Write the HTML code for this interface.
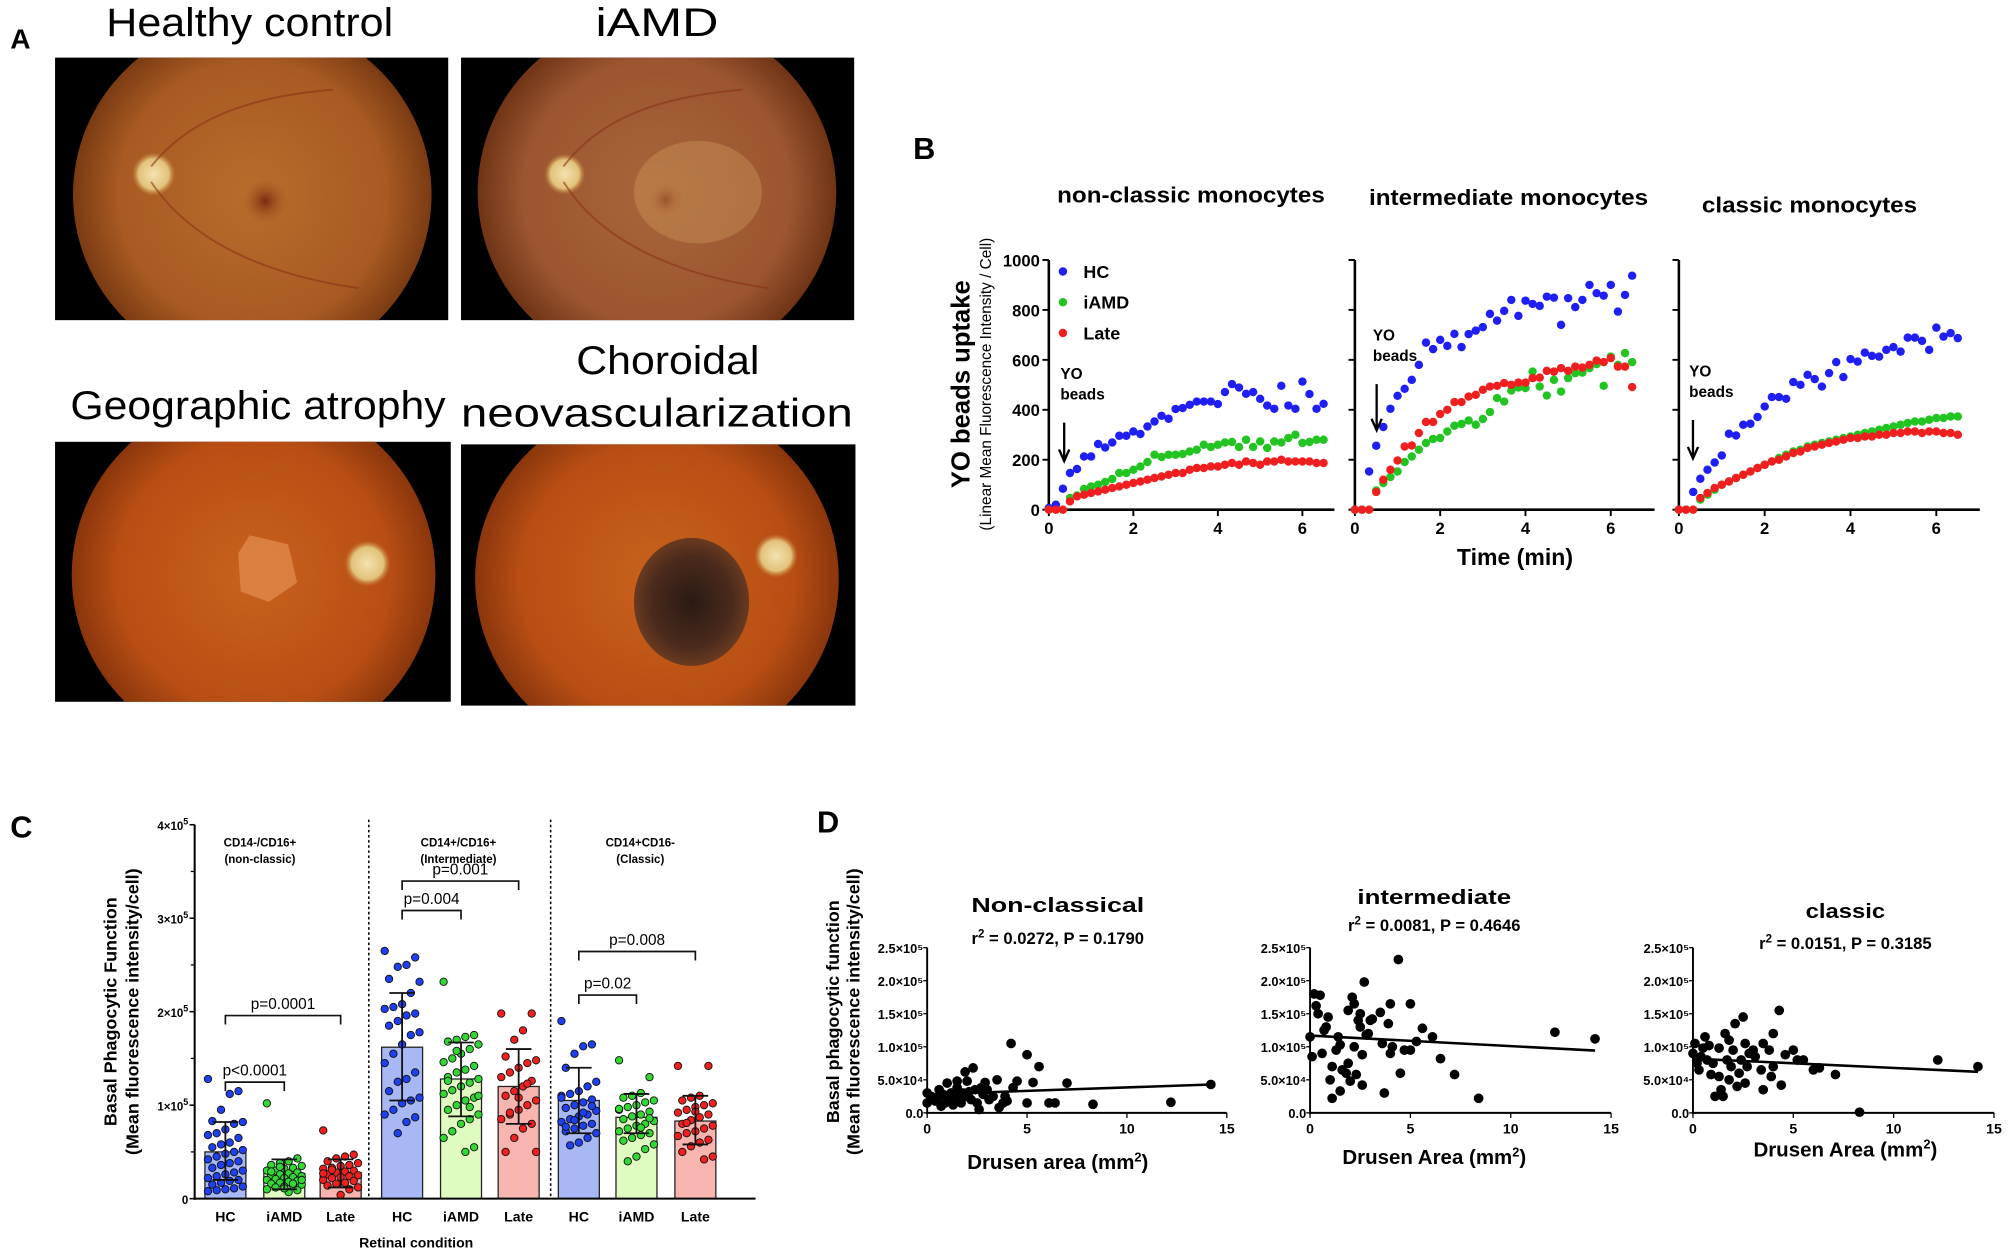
<!DOCTYPE html>
<html><head><meta charset="utf-8">
<style>
html,body{margin:0;padding:0;background:#fff;}
svg{display:block;}
text{font-family:"Liberation Sans",sans-serif;}
.n{font-family:"Liberation Sans Narrow","Liberation Sans",sans-serif;}
</style></head>
<body>
<svg id="fig" width="2008" height="1255" viewBox="0 0 1568 980" xmlns="http://www.w3.org/2000/svg">
<defs>
<radialGradient id="g1" cx="0.5" cy="0.5" r="0.5"><stop offset="0" stop-color="#b86d2c"/><stop offset="0.75" stop-color="#a85a22"/><stop offset="1" stop-color="#7a3b12"/></radialGradient>
<radialGradient id="g2" cx="0.5" cy="0.5" r="0.5"><stop offset="0" stop-color="#a8663a"/><stop offset="0.75" stop-color="#9b5530"/><stop offset="1" stop-color="#6f3416"/></radialGradient>
<radialGradient id="g3" cx="0.5" cy="0.5" r="0.5"><stop offset="0" stop-color="#c8621c"/><stop offset="0.75" stop-color="#b84e14"/><stop offset="1" stop-color="#8a360c"/></radialGradient>
<radialGradient id="disc" cx="0.5" cy="0.5" r="0.5"><stop offset="0" stop-color="#f4e2b0"/><stop offset="0.7" stop-color="#e2c27a"/><stop offset="1" stop-color="#c88a40" stop-opacity="0"/></radialGradient>
<radialGradient id="mac" cx="0.5" cy="0.5" r="0.5"><stop offset="0" stop-color="#7a2a10"/><stop offset="1" stop-color="#a85a22" stop-opacity="0"/></radialGradient>
<radialGradient id="cnv" cx="0.5" cy="0.5" r="0.5"><stop offset="0" stop-color="#2a1a14"/><stop offset="0.7" stop-color="#4a2a1c"/><stop offset="1" stop-color="#6a3a20"/></radialGradient>
<clipPath id="c1"><rect x="43" y="45" width="307" height="205"/></clipPath>
<clipPath id="c2"><rect x="360" y="45" width="307" height="205"/></clipPath>
<clipPath id="c3"><rect x="43" y="345" width="309" height="203"/></clipPath>
<clipPath id="c4"><rect x="360" y="347" width="308" height="204"/></clipPath>
</defs>

<!-- Panel A -->
<text x="8" y="38" font-size="22" font-weight="bold">A</text>
<text x="83" y="28" font-size="31" textLength="224" lengthAdjust="spacingAndGlyphs">Healthy control</text>
<text x="465" y="28" font-size="31" textLength="96" lengthAdjust="spacingAndGlyphs">iAMD</text>
<text x="55" y="327" font-size="31" textLength="293" lengthAdjust="spacingAndGlyphs">Geographic atrophy</text>
<text x="450" y="292" font-size="31" textLength="143" lengthAdjust="spacingAndGlyphs">Choroidal</text>
<text x="360" y="333" font-size="31" textLength="306" lengthAdjust="spacingAndGlyphs">neovascularization</text>

<g>
<rect x="43" y="45" width="307" height="205" fill="#000"/>
<g clip-path="url(#c1)"><ellipse cx="197" cy="152" rx="140" ry="138" fill="url(#g1)"/>
<circle cx="120" cy="136" r="17" fill="url(#disc)"/><circle cx="207" cy="157" r="18" fill="url(#mac)"/>
<path d="M118 130 C150 90 200 75 260 70 M118 142 C150 190 210 215 280 225" stroke="#8a3418" stroke-width="1.5" fill="none" opacity="0.6"/></g></g>
<g>
<rect x="360" y="45" width="307" height="205" fill="#000"/>
<g clip-path="url(#c2)"><ellipse cx="513" cy="150" rx="140" ry="138" fill="url(#g2)"/>
<circle cx="441" cy="136" r="16" fill="url(#disc)"/><circle cx="520" cy="156" r="14" fill="url(#mac)"/>
<ellipse cx="545" cy="150" rx="50" ry="40" fill="#d8a060" opacity="0.35"/>
<path d="M440 130 C470 90 520 75 580 70 M440 142 C470 190 530 215 600 225" stroke="#8a3418" stroke-width="1.5" fill="none" opacity="0.6"/></g></g>
<g>
<rect x="43" y="345" width="309" height="203" fill="#000"/>
<g clip-path="url(#c3)"><ellipse cx="198" cy="449" rx="142" ry="140" fill="url(#g3)"/>
<circle cx="287" cy="440" r="18" fill="url(#disc)"/>
<path d="M195 418 L225 425 L232 455 L210 470 L188 462 L186 432 Z" fill="#e0884a" opacity="0.8"/></g></g>
<g>
<rect x="360" y="347" width="308" height="204" fill="#000"/>
<g clip-path="url(#c4)"><ellipse cx="513" cy="452" rx="142" ry="140" fill="url(#g3)"/>
<circle cx="606" cy="434" r="17" fill="url(#disc)"/>
<ellipse cx="540" cy="470" rx="45" ry="50" fill="url(#cnv)"/></g></g>

<!-- Panel B -->
<text x="713" y="124" font-size="24" font-weight="bold">B</text>
<g id="panelB"></g>

<!-- Panel C -->
<text x="8" y="654" font-size="24" font-weight="bold">C</text>
<g id="panelC"></g>

<!-- Panel D -->
<text x="638" y="650" font-size="24" font-weight="bold">D</text>
<g id="panelD"></g>
</svg>

<script>
// ===== Panel B data =====
const bTimeStep = 0.1667;
const bPanels = ["non-classic monocytes","intermediate monocytes","classic monocytes"];
const bYTicks = [0,200,400,600,800,1000];
const bXTicks = [0,2,4,6];
const ncHC = [7,20,84,147,163,213,213,263,249,269,296,296,313,303,333,353,376,364,403,407,420,433,433,433,423,471,503,489,464,471,444,417,404,496,417,404,513,463,404,424];
const ncIAMD = [0,0,0,47,57,83,93,100,111,123,147,147,160,173,191,220,211,220,220,223,233,240,260,251,260,269,271,251,280,251,273,247,273,269,287,300,267,271,280,280];
const ncLate = [0,0,0,33,53,60,67,73,80,87,93,100,107,113,120,127,133,140,147,147,160,167,167,173,173,180,187,180,193,187,180,193,193,200,193,193,193,193,187,187];
const inHC = [0,0,153,256,331,404,456,484,520,580,669,643,680,656,704,651,703,717,731,784,757,796,840,776,837,824,816,853,849,740,847,811,840,900,867,857,900,793,860,937];
const inIAMD = [0,0,0,77,107,131,153,191,213,240,267,283,287,313,336,343,357,340,363,391,447,433,477,489,487,553,493,457,520,473,527,547,549,567,583,496,613,580,627,591];
const inLate = [0,0,0,71,120,160,197,253,257,307,351,351,383,400,431,431,453,460,480,493,496,507,500,509,509,527,529,556,553,567,556,573,569,580,597,591,607,573,573,491];
const clHC = [0,0,71,124,160,189,217,304,297,340,344,371,413,451,451,444,511,500,540,523,493,547,591,531,603,593,629,616,613,640,651,633,689,689,676,640,729,693,707,687];
const clIAMD = [0,0,0,40,60,80,100,113,127,140,153,167,180,193,207,220,233,240,253,260,267,273,280,287,293,300,307,313,320,327,333,340,347,353,353,360,367,367,373,373];
const clLate = [0,0,0,47,67,87,100,113,127,140,153,167,180,193,200,213,227,233,247,253,260,267,273,280,287,287,293,293,300,300,307,307,313,313,307,313,313,307,307,300];

// ===== Panel C data (units of 1e4) =====
const cCategories = ["HC","iAMD","Late"];
const cYTicks = [0,10,20,30,40];
const cMeans = [5.0,2.7,2.8,16.2,12.8,12.0,10.5,8.7,8.3];
const cSdLow = [2.0,1.0,1.2,10.5,8.8,8.0,7.0,7.0,5.8];
const cSdHigh = [8.2,4.2,4.2,22.0,16.7,16.0,14.0,11.2,11.0];
const cHC1 = [12.8,11.5,11.2,9.5,8.3,8.2,8.0,7.4,7.0,6.8,6.5,6.0,5.8,5.5,5.2,5.0,4.8,4.5,4.2,4.0,3.8,3.6,3.3,3.0,2.8,2.6,2.4,2.2,2.0,1.9,1.7,1.5,1.3,1.1,1.0,0.9,0.8];
const cIAMD1 = [10.2,4.3,4.0,3.8,3.6,3.5,3.3,3.2,3.0,3.0,2.8,2.7,2.6,2.5,2.4,2.3,2.2,2.1,2.0,1.9,1.8,1.7,1.6,1.5,1.4,1.3,1.2,1.0,0.9,0.7,3.4,2.9,2.0,1.6,1.1];
const cLate1 = [7.3,4.7,4.5,4.3,4.0,3.8,3.6,3.5,3.3,3.2,3.0,2.9,2.8,2.6,2.5,2.4,2.3,2.2,2.0,1.9,1.7,1.6,1.4,1.2,1.0,0.4,3.1,2.7];
const cHC2 = [26.5,25.8,25.0,24.8,23.5,23.2,22.0,20.8,20.5,20.3,19.8,19.6,19.0,18.5,17.8,17.5,16.5,15.5,14.5,13.5,12.8,12.5,11.5,10.8,10.5,10.2,9.5,9.0,8.7,8.2,7.0];
const cIAMD2 = [23.2,17.5,17.3,17.0,16.8,16.5,16.0,15.5,15.0,14.6,14.2,13.8,13.5,13.0,12.8,12.4,12.0,11.6,11.2,10.8,10.5,10.0,9.5,9.0,8.5,8.0,7.2,6.5,5.5,5.0,15.8,12.6,11.0,9.8];
const cLate2 = [19.8,19.8,18.0,17.0,15.2,14.8,14.5,14.0,13.5,13.0,12.6,12.0,11.5,11.0,10.5,10.0,9.5,9.0,8.5,8.0,7.5,6.5,5.0,5.0,12.3,10.8,9.2];
const cHC3 = [19.0,16.5,16.3,15.5,14.0,12.5,12.0,11.5,11.2,11.0,10.6,10.3,10.0,9.7,9.4,9.0,8.8,8.5,8.2,8.0,7.8,7.5,7.2,7.0,6.5,6.0,5.7,10.8,9.9,9.2,8.4,7.7];
const cIAMD3 = [14.8,13.0,11.3,11.0,10.8,10.5,10.3,10.0,9.8,9.5,9.3,9.0,8.8,8.5,8.3,8.0,7.8,7.5,7.2,7.0,6.8,6.5,6.2,5.8,5.3,4.5,4.0,9.6,8.6,7.6];
const cLate3 = [14.2,14.2,11.0,10.8,10.5,10.2,10.0,9.8,9.5,9.2,9.0,8.7,8.4,8.0,7.8,7.5,7.2,7.0,6.7,6.3,6.0,5.6,5.0,4.5,4.2,9.3,8.1];

// ===== Panel D data (x mm2, y units of 1e4) =====
const dYTicks = [0,5,10,15,20,25];
const dYTickLabels = ["0.0","5.0×10⁴","1.0×10⁵","1.5×10⁵","2.0×10⁵","2.5×10⁵"];
const dXTicks = [0,5,10,15];
const dIntercepts = [2.8,11.7,8.2];
const dSlopes = [0.105,-0.16,-0.14];
const dNcX = [0,0,0.2,0.4,0.5,0.6,0.7,0.8,0.9,1.0,1.1,1.2,1.3,1.4,1.5,1.5,1.6,1.7,1.8,1.9,2.0,2.0,2.1,2.2,2.3,2.4,2.5,2.6,2.7,2.8,2.9,3.0,3.1,3.3,3.5,3.6,3.8,3.9,4.0,4.2,4.3,4.5,5.0,5.0,5.3,5.6,6.1,6.4,7.0,8.3,12.2,14.2];
const dNcY = [3.0,1.5,2.5,1.8,2.2,3.5,1.0,2.8,1.5,4.5,2.0,3.0,1.2,2.5,4.8,3.8,2.0,1.5,3.0,6.2,4.8,2.5,3.2,2.0,6.8,3.5,1.5,0.5,3.8,2.8,4.6,3.5,2.0,2.5,5.0,0.8,1.5,2.5,1.8,10.5,3.8,4.8,8.8,1.5,4.6,7.0,1.5,1.5,4.5,1.3,1.6,4.3];
const dInX = [0,0.1,0.2,0.3,0.4,0.5,0.6,0.7,0.8,0.9,1.0,1.1,1.1,1.3,1.4,1.5,1.5,1.6,1.8,1.9,1.9,2.0,2.1,2.2,2.2,2.3,2.4,2.5,2.5,2.6,2.6,2.7,2.8,2.9,3.0,3.1,3.5,3.6,3.7,3.9,4.0,4.0,4.1,4.4,4.5,4.7,5.0,5.0,5.3,5.6,6.1,6.5,7.2,8.4,12.2,14.2];
const dInY = [11.5,8.5,18.0,16.2,15.0,17.8,9.0,12.5,13.0,14.5,5.0,7.0,2.2,9.5,11.5,10.3,3.3,6.5,6.0,15.5,7.5,4.8,17.5,16.5,10.0,5.8,14.0,15.0,13.0,8.8,4.2,19.8,11.8,12.0,14.0,14.2,15.2,10.5,3.0,13.5,16.5,9.0,10.0,23.2,6.0,9.5,16.5,9.5,10.8,12.8,11.5,8.2,5.8,2.2,12.2,11.2];
const dClX = [0,0.1,0.2,0.3,0.4,0.5,0.6,0.7,0.8,0.9,1.0,1.1,1.3,1.3,1.4,1.5,1.6,1.7,1.8,1.8,1.9,2.0,2.1,2.2,2.3,2.4,2.5,2.6,2.6,2.7,2.8,3.0,3.1,3.4,3.5,3.5,3.8,3.9,4.0,4.0,4.3,4.4,4.6,5.0,5.2,5.5,6.0,6.3,7.1,8.3,12.2,14.2];
const dClY = [9.0,10.5,7.5,6.5,8.5,9.8,11.5,8.0,10.2,5.8,7.5,2.5,9.8,5.5,3.5,2.5,12.0,8.0,11.0,5.0,7.0,9.5,13.5,4.0,6.0,8.0,14.5,10.5,4.5,7.0,9.0,9.5,8.5,6.5,10.5,3.5,9.5,5.5,12.0,7.0,15.5,4.2,8.8,9.5,8.0,8.0,6.5,6.8,5.8,0.1,8.0,7.0];

const NS = "http://www.w3.org/2000/svg";
function mk(parent, tag, attrs, txt) {
  const el = document.createElementNS(NS, tag);
  for (const k in attrs) el.setAttribute(k, attrs[k]);
  if (txt !== undefined) el.textContent = txt;
  parent.appendChild(el);
  return el;
}

// ===== Panel B =====
(function(){
  const g = document.getElementById("panelB");
  const y0 = 398, yTop = 203;
  const yS = v => y0 - (v/1000)*(y0-yTop);
  const axes = [{x0:819,u:33.0,xe:1042,title:930,ty:158,tw:209},{x0:1058,u:33.3,xe:1292,title:1178,ty:160,tw:218},{x0:1311,u:33.5,xe:1546,title:1413,ty:166,tw:168}];
  const series = [[ncHC,ncIAMD,ncLate],[inHC,inIAMD,inLate],[clHC,clIAMD,clLate]];
  const cols = ["#1f1ff5","#22c422","#f01f1f"];
  const arrows = [{x:831,ty:296,a1:330,a2:360},{x:1075,ty:266,a1:300,a2:336},{x:1322,ty:294,a1:328,a2:358}];
  axes.forEach((a,p) => {
    const xS = t => a.x0 + t*a.u;
    let t = mk(g,"text",{x:a.title-a.tw/2,y:a.ty,"font-size":17,"font-weight":"bold",textLength:a.tw,lengthAdjust:"spacingAndGlyphs"},bPanels[p]);
    
    
    let l = mk(g,"line",{x1:a.x0,y1:yTop,x2:a.x0,y2:y0+1,stroke:"#000","stroke-width":2});
    
    
    l = mk(g,"line",{x1:a.x0-1,y1:y0,x2:a.xe,y2:y0,stroke:"#000","stroke-width":2});
    
    
    bYTicks.forEach(v => {
      mk(g,"line",{x1:a.x0-5,y1:yS(v),x2:a.x0,y2:yS(v),stroke:"#000","stroke-width":1.5});
      if (p===0) {
        const tl = mk(g,"text",{x:a.x0-7,y:yS(v)+5,"font-size":13,"font-weight":"bold","text-anchor":"end",class:"n"},String(v));
        
        
      }
    });
    bXTicks.forEach(v => {
      mk(g,"line",{x1:xS(v),y1:y0,x2:xS(v),y2:y0+5,stroke:"#000","stroke-width":1.5});
      const tl = mk(g,"text",{x:xS(v),y:y0+19,"font-size":13,"font-weight":"bold","text-anchor":"middle",class:"n"},String(v));
      
      
    });
    series[p].forEach((s,si) => {
      s.forEach((v,i) => {
        const c = mk(g,"circle",{cx:xS(i*bTimeStep),cy:yS(v),r:3.3,fill:cols[si]});
        
        
      });
    });
    const ar = arrows[p];
    let at = mk(g,"text",{x:ar.x-3,y:ar.ty,"font-size":12,"font-weight":"bold",class:"n"},"YO");
    
    
    at = mk(g,"text",{x:ar.x-3,y:ar.ty+16,"font-size":12,"font-weight":"bold",class:"n"},"beads");
    
    
    const arw = mk(g,"path",{d:`M${ar.x} ${ar.a1} L${ar.x} ${ar.a2} M${ar.x-4} ${ar.a2-9} L${ar.x} ${ar.a2} L${ar.x+4} ${ar.a2-9}`,stroke:"#000","stroke-width":1.8,fill:"none"});
    
    
  });
  ["HC","iAMD","Late"].forEach((n,i) => {
    const c = mk(g,"circle",{cx:830,cy:212+i*24,r:3.3,fill:cols[i]});
    
    
    const t = mk(g,"text",{x:846,y:217+i*24,"font-size":14,"font-weight":"bold",class:"n"},n);
    
    
  });
  let t = mk(g,"text",{x:0,y:0,"font-size":20,"font-weight":"bold","text-anchor":"middle",transform:"translate(757,300) rotate(-90)"},"YO beads uptake");
  
  
  t = mk(g,"text",{x:0,y:0,"font-size":12,"text-anchor":"middle",transform:"translate(774,300) rotate(-90)"},"(Linear Mean Fluorescence Intensity / Cell)");
  
  
  t = mk(g,"text",{x:1183,y:441,"font-size":18,"font-weight":"bold","text-anchor":"middle",class:"n"},"Time (min)");
  
  
})();

// ===== Panel C =====
(function(){
  const g = document.getElementById("panelC");
  const x0 = 152, y0 = 936, pxPer = 7.3;
  const yS = v => y0 - v*pxPer;
  const centers = [176,222,266,314,360,405,452,497,543];
  const groups = [cHC1,cIAMD1,cLate1,cHC2,cIAMD2,cLate2,cHC3,cIAMD3,cLate3];
  const fills = ["#a7b8f5","#dffbc0","#f8b4ae"];
  const dots = ["#1f3ff0","#33d633","#f02020"];
  [288,430].forEach(x => {
    const l = mk(g,"line",{x1:x,y1:640,x2:x,y2:y0,stroke:"#000","stroke-width":1.2,"stroke-dasharray":"2,2"});
    
    
  });
  groups.forEach((vals,gi) => {
    const cx = centers[gi], k = gi%3;
    const b = mk(g,"rect",{x:cx-16,y:yS(cMeans[gi]),width:32,height:cMeans[gi]*pxPer,fill:fills[k],stroke:"#222","stroke-width":1});
    
    
    vals.forEach((v,i) => {
      const off = (((i*7)%9)-4)*3.4;
      const c = mk(g,"circle",{cx:cx+off,cy:yS(v),r:2.9,fill:dots[k],stroke:"#111","stroke-width":0.7});
      
      
    });
    const e = mk(g,"path",{d:`M${cx} ${yS(cSdLow[gi])} L${cx} ${yS(cSdHigh[gi])} M${cx-10} ${yS(cSdHigh[gi])} L${cx+10} ${yS(cSdHigh[gi])} M${cx-10} ${yS(cSdLow[gi])} L${cx+10} ${yS(cSdLow[gi])}`,stroke:"#111","stroke-width":1.4,fill:"none"});
    
    
    const t = mk(g,"text",{x:cx,y:954,"font-size":11,"font-weight":"bold","text-anchor":"middle"},cCategories[k]);
    
    
  });
  let l = mk(g,"line",{x1:x0,y1:644,x2:x0,y2:y0+1,stroke:"#000","stroke-width":1.6});
  
  
  l = mk(g,"line",{x1:x0,y1:y0,x2:590,y2:y0,stroke:"#000","stroke-width":1.6});
  
  
  cYTicks.forEach(v => {
    mk(g,"line",{x1:x0-4,y1:yS(v),x2:x0,y2:yS(v),stroke:"#000","stroke-width":1.2});
    if (v>0) mk(g,"line",{x1:x0-3,y1:yS(v-5),x2:x0,y2:yS(v-5),stroke:"#000","stroke-width":1});
    const t = mk(g,"text",{x:x0-5,y:yS(v)+4,"font-size":9,"font-weight":"bold","text-anchor":"end",class:"n"});
    
    
    if (v===0) t.textContent="0"; else { t.textContent=(v/10)+"×10"; mk(t,"tspan",{dy:-4,"font-size":7},"5"); }
  });
  const heads = [[203,"CD14-/CD16+","(non-classic)"],[358,"CD14+/CD16+","(Intermediate)"],[500,"CD14+CD16-","(Classic)"]];
  heads.forEach(h => {
    let t = mk(g,"text",{x:h[0],y:661,"font-size":9,"font-weight":"bold","text-anchor":"middle",class:"n"},h[1]);
    
    
    t = mk(g,"text",{x:h[0],y:674,"font-size":9,"font-weight":"bold","text-anchor":"middle",class:"n"},h[2]);
    
    
  });
  const brackets = [[176,222,845,"p<0.0001"],[176,266,793,"p=0.0001"],[314,360,711,"p=0.004"],[314,405,688,"p=0.001"],[452,497,777,"p=0.02"],[452,543,743,"p=0.008"]];
  brackets.forEach(b => {
    const p = mk(g,"path",{d:`M${b[0]} ${b[2]+7} L${b[0]} ${b[2]} L${b[1]} ${b[2]} L${b[1]} ${b[2]+7}`,stroke:"#111","stroke-width":1.3,fill:"none"});
    
    
    const t = mk(g,"text",{x:(b[0]+b[1])/2,y:b[2]-5,"font-size":12,"text-anchor":"middle",class:"n"},b[3]);
    
    
  });
  let t = mk(g,"text",{x:0,y:0,"font-size":14,"font-weight":"bold","text-anchor":"middle",transform:"translate(91,790) rotate(-90)"},"Basal Phagocytic Function");
  
  
  t = mk(g,"text",{x:0,y:0,"font-size":14,"font-weight":"bold","text-anchor":"middle",transform:"translate(108,790) rotate(-90)"},"(Mean fluorescence intensity/cell)");
  
  
  t = mk(g,"text",{x:325,y:974,"font-size":11,"font-weight":"bold","text-anchor":"middle"},"Retinal condition");
  
  
})();

// ===== Panel D =====
(function(){
  const g = document.getElementById("panelD");
  const y0 = 869, yPer = 5.16;
  const yS = v => y0 - v*yPer;
  const subs = [
    {x0:724,u:15.6,xs:dNcX,ys:dNcY,title:"Non-classical",tw:135,stat:"= 0.0272, P = 0.1790",tx:826,ty:712,sy:737,xl:"Drusen area (mm",xly:913},
    {x0:1023,u:15.67,xs:dInX,ys:dInY,title:"intermediate",tw:120,stat:"= 0.0081, P = 0.4646",tx:1120,ty:706,sy:727,xl:"Drusen Area (mm",xly:909},
    {x0:1322,u:15.67,xs:dClX,ys:dClY,title:"classic",tw:62,stat:"= 0.0151, P = 0.3185",tx:1441,ty:717,sy:741,xl:"Drusen Area (mm",xly:903}
  ];
  subs.forEach((s,si) => {
    const xS = v => s.x0 + v*s.u;
    let l = mk(g,"line",{x1:s.x0,y1:yS(25),x2:s.x0,y2:y0+1,stroke:"#000","stroke-width":1.5});
    
    
    l = mk(g,"line",{x1:s.x0,y1:y0,x2:xS(15),y2:y0,stroke:"#000","stroke-width":1.5});
    
    
    dYTicks.forEach((v,i) => {
      mk(g,"line",{x1:s.x0-3,y1:yS(v),x2:s.x0,y2:yS(v),stroke:"#000","stroke-width":1});
      const t = mk(g,"text",{x:s.x0-3,y:yS(v)+4,"font-size":10,"font-weight":"bold","text-anchor":"end",class:"n"},dYTickLabels[i]);
      
      
    });
    dXTicks.forEach(v => {
      mk(g,"line",{x1:xS(v),y1:y0,x2:xS(v),y2:y0+4,stroke:"#000","stroke-width":1});
      const t = mk(g,"text",{x:xS(v),y:y0+16,"font-size":11,"font-weight":"bold","text-anchor":"middle",class:"n"},String(v));
      
      
    });
    s.xs.forEach((xv,i) => {
      const c = mk(g,"circle",{cx:xS(xv),cy:yS(s.ys[i]),r:3.8,fill:"#000"});
      
      
    });
    const rl = mk(g,"line",{x1:xS(0),y1:yS(dIntercepts[si]),x2:xS(14.2),y2:yS(dIntercepts[si]+dSlopes[si]*14.2),stroke:"#000","stroke-width":2});
    
    
    let t = mk(g,"text",{x:s.tx-s.tw/2,y:s.ty,"font-size":16,"font-weight":"bold",textLength:s.tw,lengthAdjust:"spacingAndGlyphs"},s.title);
    
    
    t = mk(g,"text",{x:s.tx,y:s.sy,"font-size":13,"font-weight":"bold","text-anchor":"middle",class:"n"});
    
    
    t.appendChild(document.createTextNode("r"));
    mk(t,"tspan",{dy:-5,"font-size":9},"2");
    mk(t,"tspan",{dy:5}," "+s.stat);
    t = mk(g,"text",{x:s.tx,y:s.xly,"font-size":16,"font-weight":"bold","text-anchor":"middle",class:"n"});
    
    
    t.appendChild(document.createTextNode(s.xl));
    mk(t,"tspan",{dy:-6,"font-size":10},"2");
    mk(t,"tspan",{dy:6},")");
  });
  let t = mk(g,"text",{x:0,y:0,"font-size":14,"font-weight":"bold","text-anchor":"middle",transform:"translate(655,790) rotate(-90)"},"Basal phagocytic function");
  
  
  t = mk(g,"text",{x:0,y:0,"font-size":14,"font-weight":"bold","text-anchor":"middle",transform:"translate(671,790) rotate(-90)"},"(Mean fluorescence intensity/cell)");
  
  
})();
</script>
</body></html>
